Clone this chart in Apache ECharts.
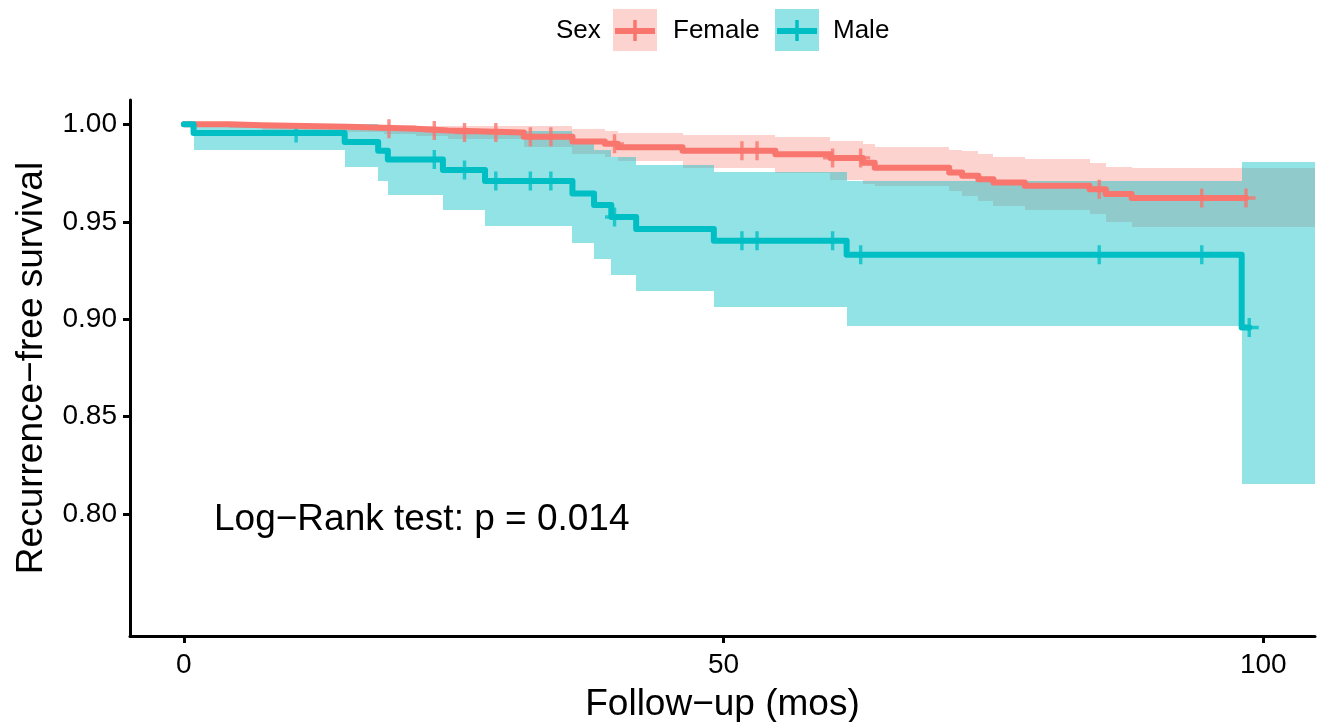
<!DOCTYPE html>
<html>
<head>
<meta charset="utf-8">
<title>Recurrence-free survival by sex</title>
<script src="https://cdn.jsdelivr.net/npm/echarts@6/dist/echarts.min.js"></script>
<style>
  html, body { margin: 0; padding: 0; background: #fff; }
  #chart { width: 1317px; height: 722px; }
</style>
</head>
<body>
<div id="chart"></div>
<script>
// Kaplan–Meier estimates: event times, survival, and 95% CI bounds per group
const femaleTime   = [0, 4.2, 7.2, 15.2, 18.5, 21.5, 24.5, 31.5, 36.0, 39.0, 40.2, 46.2, 54.8, 59.9, 62.9, 64.0, 70.9, 72.1, 73.6, 75.0, 77.9, 83.9, 85.4, 87.8];
const femaleSurv   = [1, 0.9995, 0.9988, 0.9982, 0.9977, 0.9968, 0.9958, 0.9936, 0.9912, 0.9900, 0.9883, 0.9864, 0.9847, 0.9828, 0.9803, 0.9777, 0.9753, 0.9736, 0.9719, 0.9702, 0.9685, 0.9667, 0.9643, 0.9622];
const femaleLower  = [1, 0.9980, 0.9968, 0.9960, 0.9952, 0.9940, 0.9925, 0.9882, 0.9850, 0.9832, 0.9810, 0.9778, 0.9753, 0.9715, 0.9695, 0.9682, 0.9659, 0.9633, 0.9608, 0.9582, 0.9560, 0.9539, 0.9497, 0.9471];
const femaleUpper  = [1, 1, 1, 0.9998, 0.9996, 0.9994, 0.9992, 0.9992, 0.9975, 0.9968, 0.9958, 0.9946, 0.9936, 0.9915, 0.9898, 0.9885, 0.9868, 0.9862, 0.9850, 0.9830, 0.9820, 0.9804, 0.9780, 0.9775];
const femaleCensor = [19.0, 23.2, 26.0, 28.9, 32.1, 34.0, 39.9, 51.7, 53.1, 60.1, 62.7, 84.8, 94.3, 98.4];

const maleTime   = [0, 0.9, 14.9, 18.0, 18.9, 24.0, 27.9, 36.0, 38.0, 39.6, 41.9, 49.1, 61.4, 98.0];
const maleSurv   = [1, 0.9956, 0.9910, 0.9864, 0.9820, 0.9766, 0.9710, 0.9645, 0.9586, 0.9525, 0.9463, 0.9403, 0.9331, 0.8958];
const maleLower  = [1, 0.9868, 0.9782, 0.9707, 0.9639, 0.9562, 0.9480, 0.9391, 0.9309, 0.9227, 0.9143, 0.9061, 0.8967, 0.8156];
const maleUpper  = [1, 1, 1, 0.9990, 0.9982, 0.9975, 0.9965, 0.9906, 0.9871, 0.9833, 0.9794, 0.9758, 0.9710, 0.9805];
const maleCensor = [10.4, 23.2, 26.0, 28.9, 32.1, 34.0, 39.9, 51.7, 53.1, 60.1, 62.7, 84.8, 94.3, 98.7];

const xTicks = [0, 50, 100];
const yTicks = [0.80, 0.85, 0.90, 0.95, 1.00];
const pValueText = 'Log\u2212Rank test: p = 0.014';

const X_MIN = -4.99, X_MAX = 104.79;
const Y_MIN = 0.7375, Y_MAX = 1.0125;

const RED = '#F8766D';
const TEAL = '#00BFC4';
const RED_FILL = 'rgba(248,118,109,0.32)';
const TEAL_FILL = 'rgba(0,191,196,0.43)';
const FONT = '"Liberation Sans", Arial, Helvetica, sans-serif';

// survival value of a step curve at time t
function survAt(times, surv, t) {
  let s = surv[0];
  for (let i = 0; i < times.length; i++) if (times[i] <= t) s = surv[i];
  return s;
}

function curveData(times, surv, censor) {
  const pts = times.map((t, i) => [t, surv[i]]);
  const end = Math.max(...censor);
  pts.push([end, survAt(times, surv, end)]);
  return pts;
}

function ribbonData(times, lower, upper) {
  return times.map((t, i) => [t, i + 1 < times.length ? times[i + 1] : X_MAX, lower[i], upper[i]]);
}

function censorData(times, surv, censor) {
  return censor.map(t => [t, survAt(times, surv, t)]);
}

function ribbonSeries(name, rows, fill) {
  return {
    type: 'custom',
    name: name,
    data: rows,
    clip: true,
    encode: { x: [0, 1], y: [2, 3] },
    silent: true,
    renderItem: function (params, api) {
      const a = api.coord([api.value(0), api.value(3)]);
      const b = api.coord([api.value(1), api.value(2)]);
      const x0 = Math.round(a[0]), x1 = Math.round(b[0]);
      const y0 = Math.round(a[1]), y1 = Math.round(b[1]);
      return {
        type: 'rect',
        shape: { x: x0, y: y0, width: x1 - x0, height: y1 - y0 },
        style: { fill: fill }
      };
    }
  };
}

// "+" censor mark
const PLUS = 'path://M8.2,0 H11.8 V8.2 H20 V11.8 H11.8 V20 H8.2 V11.8 H0 V8.2 H8.2 Z';

function lineSeries(name, data, color) {
  return {
    type: 'line',
    name: name,
    data: data,
    step: 'end',
    showSymbol: false,
    silent: true,
    lineStyle: { color: color, width: 6, cap: 'round', join: 'round' }
  };
}

function censorSeries(name, data, color) {
  return {
    type: 'scatter',
    name: name,
    data: data,
    symbol: PLUS,
    symbolSize: 19,
    silent: true,
    itemStyle: { color: color }
  };
}

const chart = echarts.init(document.getElementById('chart'), null, { renderer: 'canvas' });

const legendY = 9, legendH = 42;
function legendKey(x, fill, color) {
  const cx = x + 22;
  return [
    { type: 'rect', shape: { x: x, y: legendY, width: 44, height: legendH }, style: { fill: fill } },
    { type: 'line', shape: { x1: x + 2, y1: 31, x2: x + 42, y2: 31 }, style: { stroke: color, lineWidth: 6 } },
    { type: 'line', shape: { x1: cx, y1: 20, x2: cx, y2: 41 }, style: { stroke: color, lineWidth: 3.5 } }
  ];
}

chart.setOption({
  animation: false,
  backgroundColor: '#fff',
  grid: { left: 130, right: 2, top: 100, bottom: 86, containLabel: false, outerBoundsMode: 'none' },
  xAxis: {
    type: 'value',
    min: X_MIN,
    max: X_MAX,
    name: 'Follow\u2212up (mos)',
    nameLocation: 'middle',
    nameGap: 50,
    nameTextStyle: { fontSize: 37, color: '#000', fontFamily: FONT },
    axisLine: { onZero: false, lineStyle: { color: '#000', width: 3 } },
    axisTick: { show: true, length: 7, lineStyle: { color: '#000', width: 3 }, customValues: xTicks },
    axisLabel: { customValues: xTicks, fontSize: 28, color: '#000', fontFamily: FONT, margin: 15 },
    splitLine: { show: false }
  },
  yAxis: {
    type: 'value',
    min: Y_MIN,
    max: Y_MAX,
    name: 'Recurrence\u2212free survival',
    nameLocation: 'middle',
    nameGap: 80,
    nameTextStyle: { fontSize: 37, color: '#000', fontFamily: FONT },
    axisLine: { onZero: false, lineStyle: { color: '#000', width: 3 } },
    axisTick: { show: true, length: 7, lineStyle: { color: '#000', width: 3 }, customValues: yTicks },
    axisLabel: {
      customValues: yTicks, fontSize: 28, color: '#000', fontFamily: FONT, margin: 13,
      formatter: v => Number(v).toFixed(2)
    },
    splitLine: { show: false }
  },
  series: [
    lineSeries('Female', curveData(femaleTime, femaleSurv, femaleCensor), RED),
    lineSeries('Male', curveData(maleTime, maleSurv, maleCensor), TEAL),
    ribbonSeries('Female CI', ribbonData(femaleTime, femaleLower, femaleUpper), RED_FILL),
    ribbonSeries('Male CI', ribbonData(maleTime, maleLower, maleUpper), TEAL_FILL),
    censorSeries('Female censored', censorData(femaleTime, femaleSurv, femaleCensor), RED),
    censorSeries('Male censored', censorData(maleTime, maleSurv, maleCensor), TEAL)
  ],
  graphic: [
    { type: 'text', x: 556, y: 31, style: { text: 'Sex', fill: '#000', font: '26px ' + FONT, verticalAlign: 'middle' } },
    ...legendKey(613, RED_FILL, RED),
    { type: 'text', x: 673, y: 31, style: { text: 'Female', fill: '#000', font: '26px ' + FONT, verticalAlign: 'middle' } },
    ...legendKey(775, TEAL_FILL, TEAL),
    { type: 'text', x: 833, y: 31, style: { text: 'Male', fill: '#000', font: '26px ' + FONT, verticalAlign: 'middle' } },
    { type: 'text', x: 214, y: 520, style: { text: pValueText, fill: '#000', font: '37px ' + FONT, verticalAlign: 'middle' } }
  ]
});
</script>
</body>
</html>
